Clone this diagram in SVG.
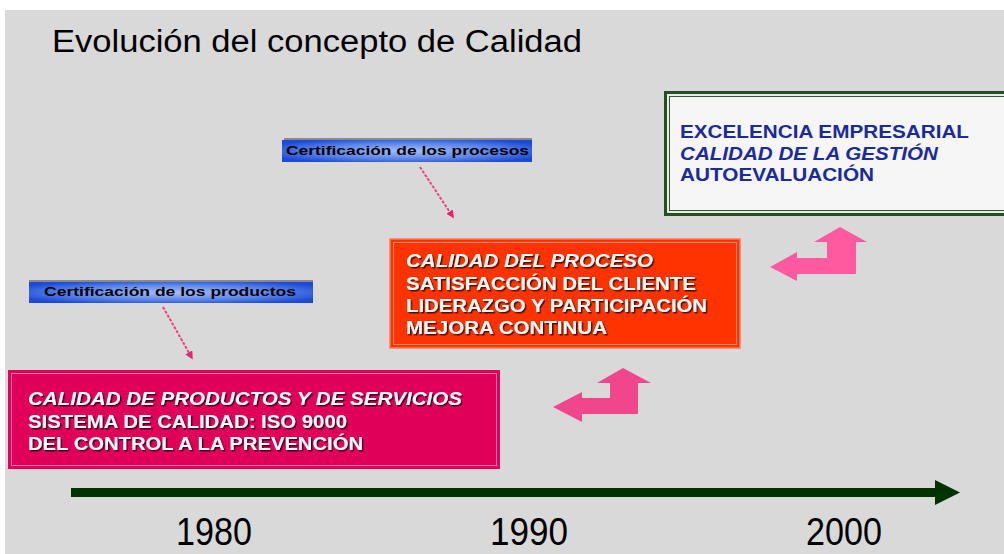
<svg xmlns="http://www.w3.org/2000/svg" width="1004" height="554" viewBox="0 0 1004 554">
<defs>
<style>
.bt{font-family:"Liberation Sans",Arial,sans-serif;font-weight:bold;font-size:18px;fill:#fff;}
.bt3{font-family:"Liberation Sans",Arial,sans-serif;font-weight:bold;font-size:18px;fill:#1b2a9c;}
.lbl{font-family:"Liberation Sans",Arial,sans-serif;font-weight:bold;font-size:13px;fill:#000;}
.yr{font-family:"Liberation Sans",Arial,sans-serif;font-size:38px;fill:#000;}
.it{font-style:italic;}
.conn{fill:none;stroke:#e8457e;stroke-width:2;stroke-dasharray:3 1.5;}
.bend1{fill:#f0468c;}
.bend2{fill:#ff5aa0;}
</style>
<radialGradient id="blueg" cx="0.5" cy="0.5" r="0.6">
<stop offset="0" stop-color="#a8c0f6"/>
<stop offset="0.6" stop-color="#5a84ea"/>
<stop offset="1" stop-color="#1c4ad6"/>
</radialGradient>
<filter id="sh" x="-5%" y="-20%" width="110%" height="150%">
<feDropShadow dx="1.5" dy="1.5" stdDeviation="0.6" flood-color="#000" flood-opacity="0.7"/>
</filter>
<marker id="ah" viewBox="0 0 10 10" refX="8" refY="5" markerWidth="4" markerHeight="4" orient="auto">
<path d="M0,0 L10,5 L0,10 z" fill="#e8256a"/>
</marker>
</defs>

<rect x="0" y="0" width="1004" height="554" fill="#ffffff"/>
<rect x="5" y="10" width="999" height="544" fill="#d9d9d9"/>

<text x="52" y="52" font-family="'Liberation Sans',Arial,sans-serif" font-size="31" fill="#000" textLength="530" lengthAdjust="spacingAndGlyphs">Evolución del concepto de Calidad</text>

<g id="connectors">
<path class="conn" d="M163,307 L192,358" marker-end="url(#ah)"/>
<path class="conn" d="M420,167 L453,217" marker-end="url(#ah)"/>
<path class="bend1" d="M553,407 L582,392 L582,398 L610,398 L610,383 L597,383 L623,368 L651,383 L638,383 L638,414 L582,414 L582,422 Z"/>
<path class="bend2" d="M770,267 L797,252 L797,258 L827,258 L827,242 L814,242 L840,227 L867,242 L856,242 L856,274 L797,274 L797,281 Z"/>
<g id="timeline">
<rect x="71" y="488" width="866" height="9" fill="#003300"/>
<path d="M935,480 L960,492.5 L935,505 Z" fill="#003300"/>
</g>
</g>

<g id="label-productos">
<rect x="29" y="280" width="284" height="2" fill="#8a8a8a"/>
<rect x="29" y="282" width="284" height="21" fill="url(#blueg)"/>
<text class="lbl" x="44" y="296" textLength="252" lengthAdjust="spacingAndGlyphs">Certificación de los productos</text>
</g>

<g id="label-procesos">
<rect x="284" y="138" width="248" height="2" fill="#8a8a8a"/>
<rect x="282" y="140" width="250" height="22" fill="url(#blueg)"/>
<text class="lbl" x="286" y="155" textLength="243" lengthAdjust="spacingAndGlyphs">Certificación de los procesos</text>
</g>

<g id="box-productos">
<rect x="8" y="370" width="492" height="99" fill="#e0005a"/>
<rect x="11.5" y="373.5" width="485" height="92" fill="none" stroke="#f27aa6" stroke-width="1"/>
<g filter="url(#sh)">
<text class="bt it" x="28" y="405" textLength="434" lengthAdjust="spacingAndGlyphs">CALIDAD DE PRODUCTOS Y DE SERVICIOS</text>
<text class="bt" x="28" y="428" textLength="319" lengthAdjust="spacingAndGlyphs">SISTEMA DE CALIDAD: ISO 9000</text>
<text class="bt" x="28" y="450" textLength="335" lengthAdjust="spacingAndGlyphs">DEL CONTROL A LA PREVENCIÓN</text>
</g>
</g>

<g id="box-proceso">
<rect x="390" y="239" width="350" height="109" fill="#ff3300" stroke="#ff7a58" stroke-width="1.5"/>
<rect x="393.5" y="242.5" width="343" height="102" fill="none" stroke="#ff8a66" stroke-width="1"/>
<g filter="url(#sh)">
<text class="bt it" x="406" y="267" textLength="247" lengthAdjust="spacingAndGlyphs">CALIDAD DEL PROCESO</text>
<text class="bt" x="406" y="290" textLength="290" lengthAdjust="spacingAndGlyphs">SATISFACCIÓN DEL CLIENTE</text>
<text class="bt" x="406" y="312" textLength="301" lengthAdjust="spacingAndGlyphs">LIDERAZGO Y PARTICIPACIÓN</text>
<text class="bt" x="406" y="334" textLength="201" lengthAdjust="spacingAndGlyphs">MEJORA CONTINUA</text>
</g>
</g>

<g id="box-excelencia">
<rect x="664" y="91" width="345" height="125" fill="#234f23"/>
<rect x="667" y="94" width="342" height="119" fill="#e8ece8"/>
<rect x="669" y="96" width="340" height="115" fill="#2e5a2e"/>
<rect x="670" y="97" width="340" height="113" fill="#f6f6f6"/>
<text class="bt3" x="680" y="138" textLength="289" lengthAdjust="spacingAndGlyphs">EXCELENCIA EMPRESARIAL</text>
<text class="bt3 it" x="680" y="160" textLength="258" lengthAdjust="spacingAndGlyphs">CALIDAD DE LA GESTIÓN</text>
<text class="bt3" x="680" y="181" textLength="194" lengthAdjust="spacingAndGlyphs">AUTOEVALUACIÓN</text>
</g>

<g id="years">
<text class="yr" x="176" y="545" textLength="76" lengthAdjust="spacingAndGlyphs">1980</text>
<text class="yr" x="490" y="545" textLength="78" lengthAdjust="spacingAndGlyphs">1990</text>
<text class="yr" x="806" y="545" textLength="76" lengthAdjust="spacingAndGlyphs">2000</text>
</g>
</svg>
